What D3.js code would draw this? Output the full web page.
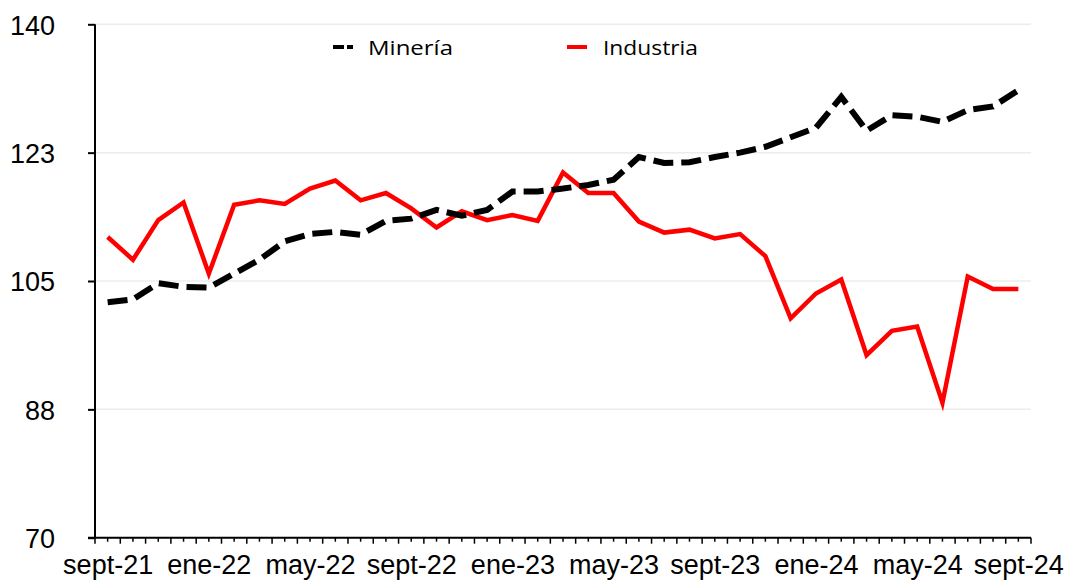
<!DOCTYPE html>
<html>
<head>
<meta charset="utf-8">
<script src="https://cdn.jsdelivr.net/npm/d3@7"></script>
<style>
  body { margin: 0; background: #fff; }
  svg { display: block; }
  .axis text { font-family: "Liberation Sans", Arial, sans-serif; fill: #000; }
  .legend text { font-family: "Open Sans", sans-serif; fill: #000; }
</style>
</head>
<body>
<svg id="chart" width="1066" height="582"></svg>
<script>
// ---- data ----
const months = [
  "sept-21","oct-21","nov-21","dic-21",
  "ene-22","feb-22","mar-22","abr-22","may-22","jun-22","jul-22","ago-22","sept-22","oct-22","nov-22","dic-22",
  "ene-23","feb-23","mar-23","abr-23","may-23","jun-23","jul-23","ago-23","sept-23","oct-23","nov-23","dic-23",
  "ene-24","feb-24","mar-24","abr-24","may-24","jun-24","jul-24","ago-24","sept-24"
];
const mineria = [
  102.1, 102.5, 104.7, 104.2,
  104.1, 106.0, 107.9, 110.4, 111.4, 111.7, 111.3, 113.2, 113.5, 114.7, 113.9, 114.7,
  117.2, 117.2, 117.6, 118.1, 118.8, 121.9, 121.1, 121.2, 121.9, 122.5, 123.3, 124.6,
  125.9, 130.1, 125.5, 127.6, 127.4, 126.7, 128.3, 128.8, 131.0
];
const industria = [
  111.0, 107.9, 113.3, 115.7,
  106.0, 115.4, 116.0, 115.5, 117.6, 118.7, 116.0, 117.0, 114.9, 112.3, 114.5, 113.3,
  114.0, 113.2, 119.8, 117.0, 117.0, 113.1, 111.6, 112.0, 110.8, 111.4, 108.4, 99.9,
  103.3, 105.2, 94.9, 98.2, 98.8, 88.4, 105.6, 103.9, 103.9
];
const yTicks = [70, 87.5, 105, 122.5, 140];
const yTickLabels = ["70", "88", "105", "123", "140"];
const xLabelEvery = 4;
const seriesNames = ["Minería", "Industria"];

// ---- layout ----
const svg = d3.select("#chart");
const plotLeft = 95, plotRight = 1031, plotTop = 24.3, plotBottom = 537.7;

const xBand = d3.scaleBand().domain(months).range([plotLeft, plotRight]);
const bw = xBand.bandwidth();
const x = d => xBand(d) + bw / 2;
const y = d3.scaleLinear().domain([70, 140]).range([plotBottom, plotTop]);

// gridlines
svg.append("g")
  .selectAll("line").data(yTicks.slice(1)).join("line")
  .attr("x1", plotLeft).attr("x2", plotRight)
  .attr("y1", d => y(d)).attr("y2", d => y(d))
  .attr("stroke", "#ececec").attr("stroke-width", 1.5);

// series
const line = d3.line().x((d, i) => x(months[i])).y(d => y(d));

svg.append("path").datum(industria)
  .attr("fill", "none").attr("stroke", "#ff0000")
  .attr("stroke-width", 4.5).attr("stroke-linejoin", "miter")
  .attr("d", line);

svg.append("path").datum(mineria)
  .attr("fill", "none").attr("stroke", "#000")
  .attr("stroke-width", 6).attr("stroke-dasharray", "20,8")
  .attr("d", line);

// y axis
const yAxis = svg.append("g").attr("class", "axis")
  .attr("transform", `translate(${plotLeft},0)`)
  .call(d3.axisLeft(y).tickValues(yTicks)
    .tickFormat((d, i) => yTickLabels[i]).tickSize(7).tickPadding(33));
yAxis.select(".domain").attr("stroke", "#000").attr("stroke-width", 2)
  .attr("d", `M0,${plotTop}V${plotBottom}`);
yAxis.selectAll(".tick line").attr("stroke", "#000").attr("stroke-width", 2);
yAxis.selectAll(".tick text").attr("font-size", 27).attr("dy", "0.36em");

// x axis: labels every 4 months
const labelMonths = months.filter((d, i) => i % xLabelEvery === 0);
const xAxis = svg.append("g").attr("class", "axis")
  .attr("transform", `translate(0,${plotBottom})`)
  .call(d3.axisBottom(d3.scalePoint().domain(months).range([x(months[0]), x(months[months.length - 1])]))
    .tickValues(labelMonths).tickSize(0).tickPadding(17));
xAxis.select(".domain").attr("stroke", "#000").attr("stroke-width", 2)
  .attr("d", `M${plotLeft - 7},0H${plotRight}`);
xAxis.selectAll(".tick text").attr("font-size", 27).attr("dy", "0.71em");

// x tick marks at band edges and centres
const edges = months.map(m => xBand(m)).concat([plotRight]);
const centres = months.map(m => x(m));
xAxis.append("g").selectAll("line").data(edges).join("line")
  .attr("x1", d => d).attr("x2", d => d).attr("y1", 0).attr("y2", 6)
  .attr("stroke", "#000").attr("stroke-width", 1.5);
xAxis.append("g").selectAll("line").data(centres).join("line")
  .attr("x1", d => d).attr("x2", d => d).attr("y1", 0).attr("y2", 4)
  .attr("stroke", "#000").attr("stroke-width", 1.5);

// legend
const legend = svg.append("g").attr("class", "legend");
const legendItems = [
  { name: seriesNames[0], color: "#000", dash: "11,3", sx: 333, tx: 368, w: 85 },
  { name: seriesNames[1], color: "#ff0000", dash: null, sx: 567, tx: 603, w: 95 }
];
legendItems.forEach(it => {
  legend.append("line")
    .attr("x1", it.sx).attr("x2", it.sx + 20).attr("y1", 47).attr("y2", 47)
    .attr("stroke", it.color).attr("stroke-width", 4)
    .attr("stroke-dasharray", it.dash);
  legend.append("text")
    .attr("x", it.tx).attr("y", 54.5)
    .attr("font-size", 20)
    .attr("textLength", it.w).attr("lengthAdjust", "spacingAndGlyphs")
    .text(it.name);
});
</script>
</body>
</html>
